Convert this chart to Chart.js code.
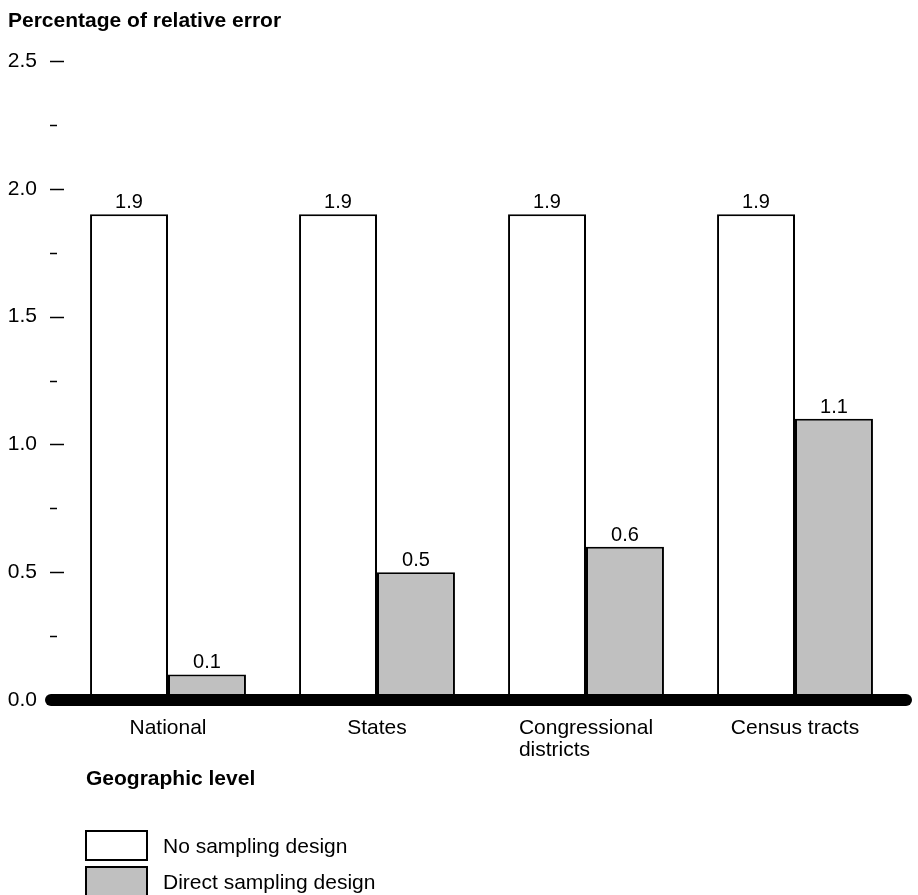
<!DOCTYPE html>
<html>
<head>
<meta charset="utf-8">
<script src="https://cdn.jsdelivr.net/npm/chart.js@4.4.1/dist/chart.umd.min.js"></script>
<style>
  body { margin: 0; background: #fff; font-family: "Liberation Sans", Arial, sans-serif; color: #000; }
  #wrap { position: relative; width: 918px; height: 895px; overflow: hidden; }
  #chart { position: absolute; left: 0; top: 0; }
  .ttl { position: absolute; font-weight: bold; font-size: 21px; line-height: 1; white-space: nowrap; }
  .leg { position: absolute; left: 85px; height: 31px; display: flex; align-items: center; font-size: 21px; white-space: nowrap; }
  .leg span.box { box-sizing: border-box; width: 63px; height: 31px; border: 2px solid #000; margin-right: 15px; }
</style>
</head>
<body>
<div id="wrap">
  <canvas id="chart" width="918" height="895"></canvas>
  <div class="ttl" style="left:8px; top:9px;">Percentage of relative error</div>
  <div class="ttl" style="left:86px; top:767px;">Geographic level</div>
  <div class="leg" style="top:830px;"><span class="box" style="background:#ffffff"></span>No sampling design</div>
  <div class="leg" style="top:866px;"><span class="box" style="background:#c0c0c0"></span>Direct sampling design</div>
</div>
<script>
const categories = ['National', 'States', ['Congressional', 'districts'], 'Census tracts'];
const noSampling = [1.9, 1.9, 1.9, 1.9];
const directSampling = [0.1, 0.5, 0.6, 1.1];
const seriesNames = ['No sampling design', 'Direct sampling design'];
const yMin = 0, yMax = 2.5, yStep = 0.25;

const font = '"Liberation Sans", Arial, sans-serif';

// value labels above each bar
const valueLabels = {
  id: 'valueLabels',
  afterDatasetsDraw(chart) {
    const ctx = chart.ctx;
    ctx.save();
    ctx.font = '20px ' + font;
    ctx.fillStyle = '#000';
    ctx.textAlign = 'center';
    ctx.textBaseline = 'alphabetic';
    chart.data.datasets.forEach((ds, i) => {
      chart.getDatasetMeta(i).data.forEach((bar, j) => {
        ctx.fillText(ds.data[j].toFixed(1), bar.x, bar.y - 6);
      });
    });
    ctx.restore();
  }
};

// short dashes next to the y labels, and the thick zero line
const axisMarks = {
  id: 'axisMarks',
  afterDatasetsDraw(chart) {
    const ctx = chart.ctx;
    const y = chart.scales.y;
    ctx.save();
    ctx.strokeStyle = '#000';
    ctx.lineWidth = 1.5;
    y.ticks.forEach(t => {
      const py = Math.round(y.getPixelForValue(t.value)) + 0.5;
      const major = Math.abs(t.value / 0.5 - Math.round(t.value / 0.5)) < 1e-6;
      ctx.beginPath();
      ctx.moveTo(50, py);
      ctx.lineTo(major ? 64 : 57, py);
      ctx.stroke();
    });
    const zy = y.getPixelForValue(0);
    ctx.lineWidth = 12;
    ctx.lineCap = 'round';
    ctx.beginPath();
    ctx.moveTo(51, zy);
    ctx.lineTo(906, zy);
    ctx.stroke();
    ctx.restore();
  }
};

// category labels under the zero line (multi-line ones left aligned in a centred block)
const categoryLabels = {
  id: 'categoryLabels',
  afterDraw(chart) {
    const ctx = chart.ctx;
    const x = chart.scales.x;
    const base = chart.scales.y.getPixelForValue(0);
    ctx.save();
    ctx.font = '21px ' + font;
    ctx.fillStyle = '#000';
    ctx.textAlign = 'left';
    ctx.textBaseline = 'alphabetic';
    categories.forEach((c, i) => {
      const lines = Array.isArray(c) ? c : [c];
      const w = Math.max(...lines.map(l => ctx.measureText(l).width));
      const left = x.getPixelForValue(i) - w / 2;
      lines.forEach((l, k) => ctx.fillText(l, left, base + 34 + k * 22));
    });
    ctx.restore();
  }
};

new Chart(document.getElementById('chart'), {
  type: 'bar',
  data: {
    labels: categories,
    datasets: [{
        label: seriesNames[0],
        data: noSampling,
        backgroundColor: '#ffffff',
        borderColor: '#000000',
        borderWidth: 2,
        borderSkipped: false
      },
      {
        label: seriesNames[1],
        data: directSampling,
        backgroundColor: '#c0c0c0',
        borderColor: '#000000',
        borderWidth: 2,
        borderSkipped: false
      }
    ]
  },
  options: {
    responsive: false,
    animation: false,
    devicePixelRatio: 1,
    categoryPercentage: 0.746,
    barPercentage: 1,
    layout: { padding: { left: 8, right: 18.5, top: 61, bottom: 195 } },
    plugins: {
      legend: { display: false },
      tooltip: { enabled: false }
    },
    scales: {
      x: { display: false, offset: true },
      y: {
        min: yMin,
        max: yMax,
        afterFit(scale) { scale.width = 55.5; },
        grid: { display: false, drawTicks: false },
        border: { display: false },
        ticks: {
          stepSize: yStep,
          autoSkip: false,
          padding: 26.5,
          color: '#000',
          font: { family: font, size: 21 },
          callback: v => (Math.abs(v / 0.5 - Math.round(v / 0.5)) < 1e-6 ? v.toFixed(1) : '')
        }
      }
    }
  },
  plugins: [valueLabels, axisMarks, categoryLabels]
});
</script>
</body>
</html>
